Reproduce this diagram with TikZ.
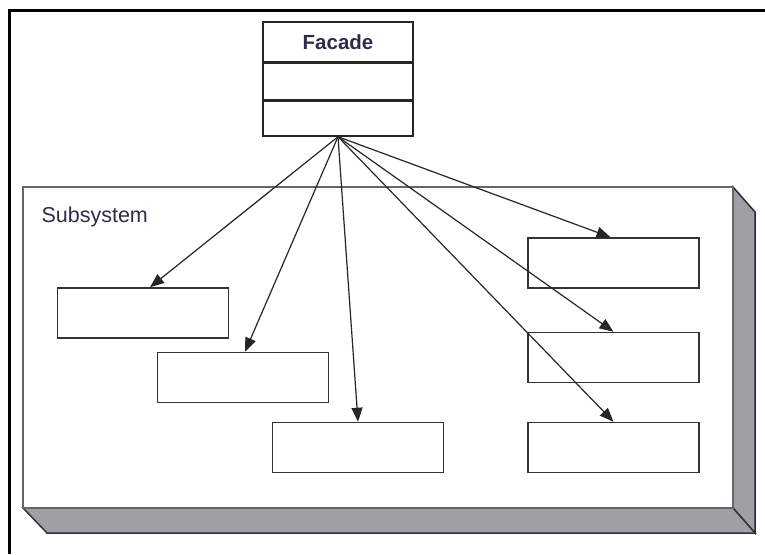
\documentclass[tikz,border=0pt]{standalone}
\usepackage{fontspec}
\setmainfont{Liberation Sans}
\usetikzlibrary{arrows.meta,positioning}
\definecolor{sidegray}{RGB}{160,159,165}
\definecolor{edgenavy}{RGB}{40,40,70}
\definecolor{textnavy}{RGB}{45,45,75}
\tikzset{
  classbox/.style={draw=black!80,line width=1.5pt,minimum width=171pt,minimum height=50pt,inner sep=0pt},
  facadepart/.style={draw=black!85,line width=1.5pt,minimum width=150pt,inner sep=0pt},
  facadearrow/.style={-{Triangle[length=14pt,width=11pt]},line width=1.2pt,black!85}
}
\begin{document}
\begin{tikzpicture}[x=1pt,y=-1pt]
\useasboundingbox (0,0) rectangle (765,554);
% outer frame
\draw[line width=3pt] (9,554) -- (9,10) -- (765,10);
% subsystem block
\draw[fill=sidegray,draw=edgenavy,line width=1.5pt] (733,187) -- (755,212) -- (755,533) -- (733,508) -- cycle;
\draw[fill=sidegray,draw=black!80,line width=1.5pt] (23,508) -- (733,508) -- (755,533) -- (47,533) -- cycle;
\draw[fill=white,draw=black!60,line width=1.5pt] (23,187) rectangle (733,508);
\node[anchor=west,text=textnavy,font=\fontsize{21.5}{25}\selectfont] (subsys) at (38,217) {Subsystem};
% facade class
\node[facadepart,minimum height=40pt,text=textnavy,font=\bfseries\fontsize{20.5}{24}\selectfont] (facade) at (338,42) {Facade};
\node[facadepart,minimum height=36pt,below=0pt of facade] (fattr) {};
\node[facadepart,minimum height=35pt,below=0pt of fattr] (fops) {};
% subsystem classes
\foreach \n/\x/\y in {b1/143/313,b2/243/377.5,b3/358/447.5,r1/613.5/263,r2/613.5/357.5,r3/613.5/447.5}
   \node[classbox] (\n) at (\x,\y) {};
\foreach \t/\s in {b1/7,b2/2,b3/0,r1/-3,r2/0,r3/0}
   \draw[facadearrow] (fops.south) -- ([xshift=\s pt]\t.north);
\end{tikzpicture}
\end{document}
